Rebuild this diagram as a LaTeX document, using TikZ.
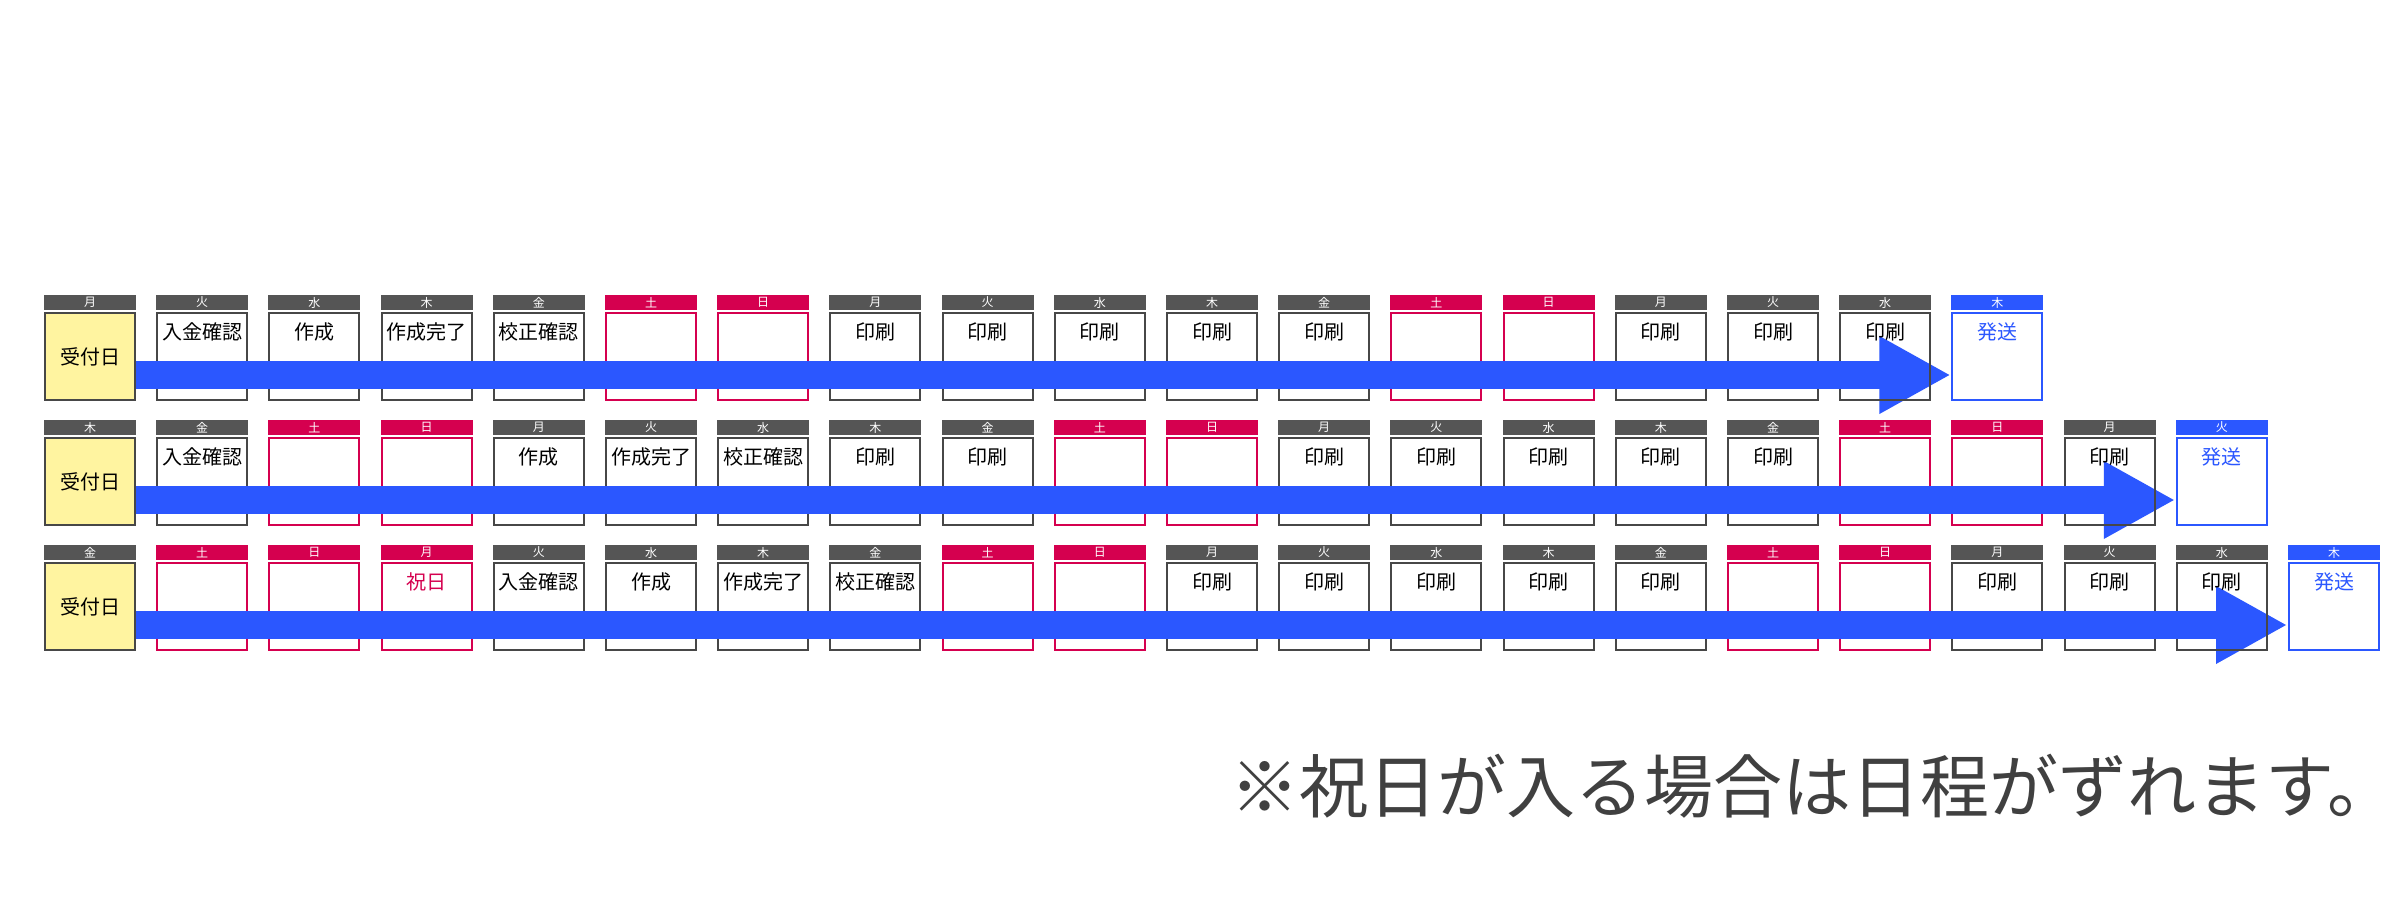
\documentclass[tikz,border=0pt]{standalone}
\usepackage{fontspec}
\newfontfamily\jp{Noto Sans CJK JP}
\usetikzlibrary{calc}
\definecolor{hdrgray}{HTML}{555555}
\definecolor{boxgray}{HTML}{474747}
\definecolor{hred}{HTML}{D5004F}
\definecolor{sblue}{HTML}{2B57FF}
\definecolor{ryellow}{HTML}{FFF4A0}
\definecolor{notegray}{HTML}{404040}
\pgfdeclarelayer{back}
\pgfdeclarelayer{bg}
\pgfsetlayers{back,bg,main}
\tikzset{
 hdr/.style={rectangle, inner sep=0pt, minimum width=92pt, minimum height=15pt, text=white, font=\jp\fontsize{12}{12}\selectfont},
 hdr-n/.style={hdr, fill=hdrgray},
 hdr-r/.style={hdr, fill=hdrgray},
 hdr-h/.style={hdr, fill=hred},
 hdr-s/.style={hdr, fill=sblue},
 daycell/.style={rectangle, inner sep=0pt, minimum width=90pt, minimum height=87pt, line width=2pt},
 daycell-n/.style={daycell, draw=boxgray},
 daycell-r/.style={daycell, draw=boxgray, fill=ryellow},
 daycell-h/.style={daycell, draw=hred},
 daycell-s/.style={daycell, draw=sblue},
 lbl/.style={inner sep=0pt, font=\jp\fontsize{20}{20}\selectfont},
 lbl-n/.style={lbl, text=black, yshift=24.5pt},
 lbl-r/.style={lbl, text=black},
 lbl-h/.style={lbl, text=hred, yshift=24.5pt},
 lbl-s/.style={lbl, text=sblue, yshift=24.5pt},
 barshaft/.style={draw=sblue, line width=28pt},
 arrowhd/.style={fill=sblue},
 note/.style={inner sep=0pt, text=notegray, font=\jp\fontsize{69}{69}\selectfont},
}
\newcommand\dayrow[4]{%
 \foreach \dy/\ty/\tx [count=\i from 0] in {#4} {
  \pgfmathsetmacro\cx{90+112.2*\i}
  \node[hdr-\ty] (h#1-\i) at (\cx, #2+7.5) {\dy};
  \node[daycell-\ty] (c#1-\i) at (\cx, #2+61.5) {};
  \node[lbl-\ty] (t#1-\i) at (c#1-\i.center) {\tx};
 }
 \coordinate (tip#1) at ($(c#1-#3.west)+(-2,18.5)$);
 \coordinate (base#1) at ($(tip#1)+(-70,0)$);
 \coordinate (bt#1) at ($(base#1)+(0,-39)$);
 \coordinate (bb#1) at ($(base#1)+(0,39)$);
 \begin{pgfonlayer}{bg}
  \fill[arrowhd] (tip#1) -- (bt#1) -- (bb#1) -- cycle;
 \end{pgfonlayer}
 \draw[barshaft] (c#1-0.east |- base#1) -- ($(base#1)+(1,0)$);
}
\begin{document}
\begin{tikzpicture}[x=1pt,y=-1pt]
\useasboundingbox (0,0) rectangle (2400,900);
\begin{pgfonlayer}{back}
\fill[white] (0,0) rectangle (2400,900);
\end{pgfonlayer}
\dayrow{1}{295}{17}{月/r/受付日,火/n/入金確認,水/n/作成,木/n/作成完了,金/n/校正確認,土/h/{},日/h/{},月/n/印刷,火/n/印刷,水/n/印刷,木/n/印刷,金/n/印刷,土/h/{},日/h/{},月/n/印刷,火/n/印刷,水/n/印刷,木/s/発送}
\dayrow{2}{420}{19}{木/r/受付日,金/n/入金確認,土/h/{},日/h/{},月/n/作成,火/n/作成完了,水/n/校正確認,木/n/印刷,金/n/印刷,土/h/{},日/h/{},月/n/印刷,火/n/印刷,水/n/印刷,木/n/印刷,金/n/印刷,土/h/{},日/h/{},月/n/印刷,火/s/発送}
\dayrow{3}{545}{20}{金/r/受付日,土/h/{},日/h/{},月/h/祝日,火/n/入金確認,水/n/作成,木/n/作成完了,金/n/校正確認,土/h/{},日/h/{},月/n/印刷,火/n/印刷,水/n/印刷,木/n/印刷,金/n/印刷,土/h/{},日/h/{},月/n/印刷,火/n/印刷,水/n/印刷,木/s/発送}
\node[note, anchor=base west] (notetext) at (1230,812) {※祝日が入る場合は日程がずれます。};
\end{tikzpicture}
\end{document}
